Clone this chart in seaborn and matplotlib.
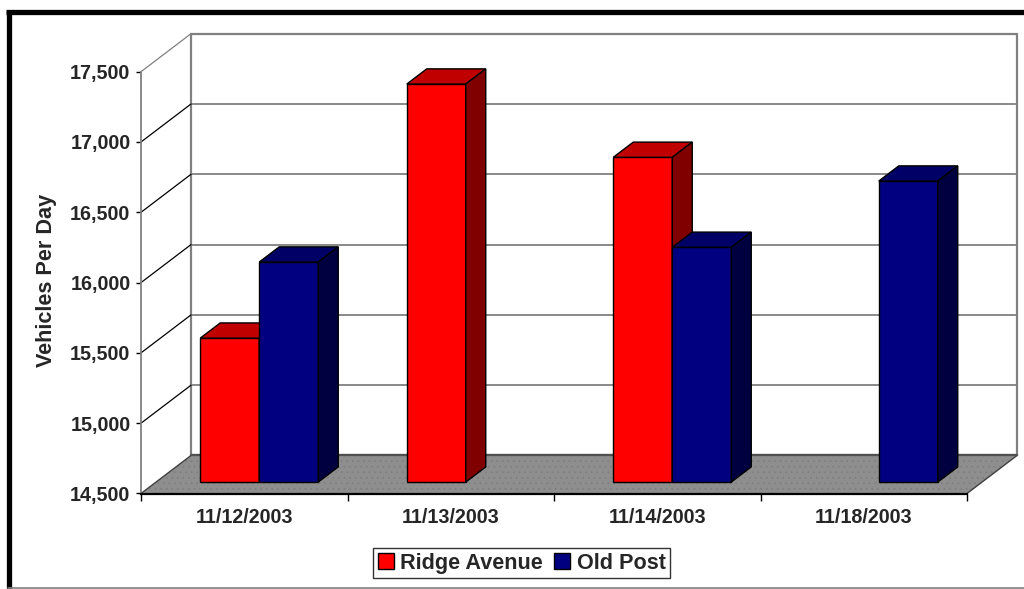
import numpy as np
import pandas as pd
import matplotlib
matplotlib.use("Agg")
import matplotlib.pyplot as plt
import seaborn as sns
from matplotlib.patches import Polygon, Patch, Rectangle
from matplotlib.lines import Line2D
from matplotlib.transforms import IdentityTransform, ScaledTranslation

# ---- data ----
dates = ["11/12/2003", "11/13/2003", "11/14/2003", "11/18/2003"]
ridge_avenue = [15524, 17331, 16810, np.nan]
old_post = [16065, np.nan, 16170, 16641]
series_names = ["Ridge Avenue", "Old Post"]
y_ticks = [14500, 15000, 15500, 16000, 16500, 17000, 17500]
y_label = "Vehicles Per Day"

front_colors = {"Ridge Avenue": "#FF0000", "Old Post": "#000080"}
top_colors = {"Ridge Avenue": "#C00000", "Old Post": "#000066"}
side_colors = {"Ridge Avenue": "#800000", "Old Post": "#000040"}

df = pd.DataFrame({
    "date": dates * 2,
    "road": [series_names[0]] * 4 + [series_names[1]] * 4,
    "vpd": ridge_avenue + old_post,
}).dropna()

sns.set_style("white")
plt.rcParams["font.family"] = ["Liberation Sans", "DejaVu Sans"]
plt.rcParams["font.weight"] = "bold"

W, H = 1024, 589
fig = plt.figure(figsize=(W / 100, H / 100), dpi=100)
fig.patch.set_facecolor("white")

# front plane of the 3-D box in pixels
FL, FR, FB, FT = 141, 967, 493.5, 71.7
ax = fig.add_axes([FL / W, (H - FB) / H, (FR - FL) / W, (FB - FT) / H])
ax.set_xlim(-0.5, 3.5)
ax.set_ylim(y_ticks[0], y_ticks[-1])
ax.patch.set_visible(False)

DX, DY = 50.0, 38.0     # depth vector (px, display up)
D0, D1 = 0.3, 0.7       # bar front / back depth fraction
BASE = y_ticks[0]

def P(x, y, d=0.0):
    px, py = ax.transData.transform((x, y))
    return (px + d * DX, py + d * DY)

ident = IdentityTransform()

# back wall
x0, x1 = ax.get_xlim()
yb, yt = ax.get_ylim()
wall = Polygon([P(x0, yb, 1), P(x1, yb, 1), P(x1, yt, 1), P(x0, yt, 1)],
               closed=True, facecolor="white", edgecolor="#808080", lw=1.6,
               transform=ident, clip_on=False, zorder=0.5)
ax.add_patch(wall)
# back gridlines + side diagonals
for yv in y_ticks[1:-1]:
    ax.add_line(Line2D(*zip(P(x0, yv, 1), P(x1, yv, 1)), color="#808080", lw=1.3,
                       transform=ident, clip_on=False, zorder=0.6))
for yv in y_ticks[1:]:
    col = "#808080" if yv == y_ticks[-1] else "black"
    ax.add_line(Line2D(*zip(P(x0, yv, 0), P(x0, yv, 1)), color=col, lw=0.9,
                       transform=ident, clip_on=False, zorder=0.6))

# floor
floor_pts = [P(x0, yb, 0), P(x1, yb, 0), P(x1, yb, 1), P(x0, yb, 1)]
ax.add_patch(Polygon(floor_pts, closed=True, facecolor="#8e8e8e", edgecolor="none",
                     transform=ident, clip_on=False, zorder=0.7))
plt.rcParams["hatch.linewidth"] = 0.5
ax.add_patch(Polygon(floor_pts, closed=True, facecolor="none", edgecolor="#7e7e7e",
                     hatch="...", lw=0, transform=ident, clip_on=False, zorder=0.71))
for xe in (x0, x1):
    ax.add_line(Line2D(*zip(P(xe, yb, 0), P(xe, yb, 1)), color="#404040", lw=1.0,
                       transform=ident, clip_on=False, zorder=0.72))
ax.add_line(Line2D(*zip(P(x0, yb, 1), P(x1, yb, 1)), color="#505050", lw=1.6,
                   transform=ident, clip_on=False, zorder=0.72))

n_before = len(ax.patches)
# bars (front faces) via seaborn
sns.barplot(data=df, x="date", y="vpd", hue="road", order=dates,
            hue_order=series_names, palette=front_colors, width=2 / 3.5,
            edgecolor="black", linewidth=1.0, saturation=1, legend=False, ax=ax)

shift = ScaledTranslation(D0 * DX / 100, D0 * DY / 100, fig.dpi_scale_trans)
bars = sorted([p for p in ax.patches[n_before:] if isinstance(p, Rectangle)
               and np.isfinite(p.get_height()) and p.get_height() > BASE],
              key=lambda p: p.get_x())
red = matplotlib.colors.to_rgba(front_colors["Ridge Avenue"])
for i, p in enumerate(bars):
    name = "Ridge Avenue" if np.allclose(p.get_facecolor(), red) else "Old Post"
    bx, bw, val = p.get_x(), p.get_width(), p.get_height()
    p.set_y(BASE)
    p.set_height(val - BASE)
    p.set_transform(ax.transData + shift)
    p.set_clip_on(False)
    z = 2 + i * 0.01
    p.set_zorder(z)
    top = [P(bx, val, D0), P(bx + bw, val, D0), P(bx + bw, val, D1), P(bx, val, D1)]
    side = [P(bx + bw, BASE, D0), P(bx + bw, BASE, D1), P(bx + bw, val, D1), P(bx + bw, val, D0)]
    ax.add_patch(Polygon(top, closed=True, facecolor=top_colors[name], edgecolor="black",
                         lw=1.0, transform=ident, clip_on=False, zorder=z + 0.001))
    ax.add_patch(Polygon(side, closed=True, facecolor=side_colors[name], edgecolor="black",
                         lw=1.0, transform=ident, clip_on=False, zorder=z + 0.001))

# axes styling
for s in ("top", "right"):
    ax.spines[s].set_visible(False)
ax.spines["left"].set_color("#808080")
ax.spines["left"].set_linewidth(1.3)
ax.spines["bottom"].set_color("black")
ax.spines["bottom"].set_linewidth(1.6)
ax.spines["left"].set_zorder(1)

ax.set_yticks(y_ticks)
ax.set_yticklabels([f"{v:,}" for v in y_ticks], fontsize=14.2, fontweight="bold")
ax.tick_params(axis="y", direction="out", length=3.6, width=1, color="black", pad=4.0,
               left=True)
ax.set_xticks(range(len(dates)))
ax.set_xticklabels(dates, fontsize=14.2, fontweight="bold")
ax.set_xticks(np.arange(-0.5, len(dates), 1.0), minor=True)
ax.tick_params(axis="x", which="major", length=0, pad=10.5)
ax.tick_params(axis="x", which="minor", direction="out", length=5, width=1, color="black",
               bottom=True)
ax.set_xlabel("")
ax.set_ylabel(y_label, fontsize=15.6, fontweight="bold")
ax.yaxis.set_label_coords(-0.102, 0.504)

# legend
handles = [Patch(facecolor=front_colors[n], edgecolor="black", lw=1.0) for n in series_names]
leg = fig.legend(handles, series_names, loc="center", bbox_to_anchor=(521.6 / W, 1 - 563.3 / H),
                 ncol=2, frameon=True, fancybox=False, shadow=False, borderpad=0.2,
                 handlelength=0.75, handleheight=0.75, handletextpad=0.3, columnspacing=0.5,
                 borderaxespad=0, prop={"size": 15.6, "weight": "bold"})
leg.get_frame().set_edgecolor("black")
leg.get_frame().set_linewidth(1.0)

# outer chart border (partly cut off in the image)
fig.add_artist(Line2D([6, W], [H - 11.8, H - 11.8], color="black", lw=3.8,
                      transform=ident, solid_capstyle="butt"))
fig.add_artist(Line2D([8.5, 8.5], [0, H - 9.5], color="black", lw=3.8,
                      transform=ident, solid_capstyle="butt"))
fig.add_artist(Line2D([8, W], [1, 1], color="#808080", lw=1.2, transform=ident))

fig.savefig("out.png", dpi=100)
